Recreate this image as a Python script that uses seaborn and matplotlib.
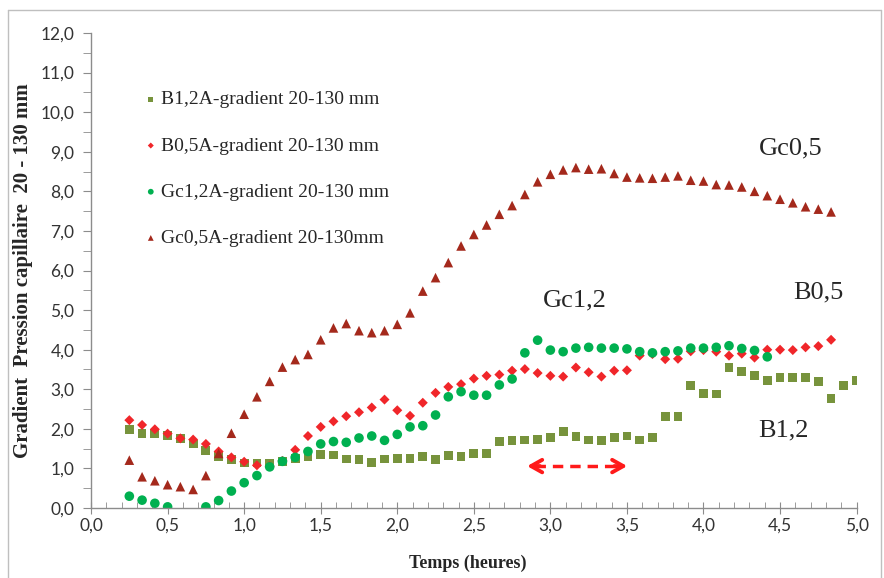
import numpy as np
import pandas as pd
import seaborn as sns
import matplotlib.pyplot as plt
from matplotlib.lines import Line2D
from matplotlib.ticker import MultipleLocator, FuncFormatter

# temps de mesure (minutes), un point toutes les 5 min
minutes = [15, 20, 25, 30, 35, 40, 45, 50, 55, 60,
           65, 70, 75, 80, 85, 90, 95, 100, 105, 110, 115, 120,
           125, 130, 135, 140, 145, 150, 155, 160, 165, 170, 175, 180,
           185, 190, 195, 200, 205, 210, 215, 220, 225, 230, 235, 240,
           245, 250, 255, 260, 265, 270, 275, 280, 285, 290, 295, 300]

# B1,2A (carres verts olive)
b12 = [1.99, 1.89, 1.89, 1.83, 1.75, 1.62, 1.46, 1.31, 1.23, 1.14,
       1.14, 1.13, 1.18, 1.25, 1.30, 1.35, 1.34, 1.24, 1.22, 1.15, 1.24, 1.25,
       1.25, 1.30, 1.22, 1.32, 1.30, 1.37, 1.38, 1.69, 1.71, 1.72, 1.73, 1.78,
       1.94, 1.80, 1.72, 1.70, 1.78, 1.82, 1.72, 1.78, 2.31, 2.32, 3.10, 2.90,
       2.88, 3.56, 3.45, 3.35, 3.23, 3.30, 3.30, 3.30, 3.19, 2.77, 3.10, 3.22]

# B0,5A (losanges rouges)
b05 = [2.22, 2.10, 1.99, 1.88, 1.76, 1.73, 1.62, 1.43, 1.28, 1.17,
       1.08, 1.06, 1.19, 1.47, 1.82, 2.05, 2.19, 2.32, 2.42, 2.54, 2.74, 2.47,
       2.33, 2.66, 2.91, 3.06, 3.13, 3.27, 3.34, 3.37, 3.47, 3.51, 3.41, 3.34,
       3.32, 3.55, 3.43, 3.32, 3.47, 3.48, 3.85, 3.89, 3.76, 3.77, 3.96, 3.99,
       3.95, 3.85, 3.90, 3.80, 4.00, 4.00, 3.99, 4.06, 4.09, 4.25]

# Gc1,2A (ronds verts) - pas de valeur a 35 et 40 min
gc12 = [0.30, 0.20, 0.12, 0.03, np.nan, np.nan, 0.03, 0.19, 0.43, 0.64,
        0.82, 1.04, 1.18, 1.28, 1.43, 1.62, 1.68, 1.66, 1.77, 1.82, 1.71, 1.86,
        2.05, 2.08, 2.35, 2.81, 2.94, 2.85, 2.85, 3.11, 3.26, 3.92, 4.24, 3.99,
        3.95, 4.04, 4.06, 4.04, 4.04, 4.02, 3.95, 3.92, 3.95, 3.97, 4.04, 4.04,
        4.06, 4.10, 4.03, 3.98, 3.82]

# Gc0,5A (triangles rouge fonce)
gc05 = [1.21, 0.79, 0.69, 0.59, 0.54, 0.47, 0.82, 1.38, 1.89, 2.37,
        2.81, 3.20, 3.56, 3.75, 3.88, 4.25, 4.55, 4.66, 4.48, 4.43, 4.48, 4.64,
        4.93, 5.48, 5.82, 6.20, 6.62, 6.91, 7.15, 7.42, 7.64, 7.92, 8.24, 8.43,
        8.54, 8.60, 8.56, 8.57, 8.45, 8.36, 8.34, 8.33, 8.36, 8.39, 8.28, 8.26,
        8.17, 8.16, 8.11, 8.00, 7.89, 7.80, 7.71, 7.61, 7.55, 7.48]

labels = ["B1,2A-gradient 20-130 mm", "B0,5A-gradient 20-130 mm",
          "Gc1,2A-gradient 20-130 mm", "Gc0,5A-gradient 20-130mm"]

temps = np.array(minutes) / 60.0

sns.set_style("ticks")
plt.rcParams['font.family'] = ['Liberation Serif', 'DejaVu Serif']

fig = plt.figure(figsize=(8.84, 5.78), dpi=100)
ax = fig.add_axes([0.103, 0.121, 0.866, 0.822])

styles = [("s", "#77933C", 40), ("D", "#F0262A", 26),
          ("o", "#00B050", 48), ("^", "#A4291C", 48)]
for lab, vals, (mk, col, sz) in zip(labels, [b12, b05, gc12, gc05], styles):
    df = pd.DataFrame({"t": temps[:len(vals)], "v": vals})
    sns.scatterplot(data=df, x="t", y="v", marker=mk, color=col, s=sz,
                    linewidth=0, edgecolor="none", ax=ax, label=lab)

ax.set_xlim(0, 5)
ax.set_ylim(0, 12)
sns.despine(ax=ax)
for sp in ["left", "bottom"]:
    ax.spines[sp].set_color("#8c8c8c")
    ax.spines[sp].set_linewidth(1.0)

fmt = FuncFormatter(lambda v, p: f"{v:.1f}".replace(".", ","))
ax.xaxis.set_major_locator(MultipleLocator(0.5))
ax.xaxis.set_minor_locator(MultipleLocator(0.1))
ax.yaxis.set_major_locator(MultipleLocator(1))
ax.yaxis.set_minor_locator(MultipleLocator(0.5))
ax.xaxis.set_major_formatter(fmt)
ax.yaxis.set_major_formatter(fmt)
ax.tick_params(axis="x", which="major", direction="inout", length=8, color="#8c8c8c", pad=3)
ax.tick_params(axis="x", which="minor", direction="in", length=4, color="#8c8c8c")
ax.tick_params(axis="y", which="major", direction="out", length=6, color="#8c8c8c", pad=6)
ax.tick_params(axis="y", which="minor", direction="out", length=6, color="#8c8c8c")
for t in ax.get_xticklabels() + ax.get_yticklabels():
    t.set_family(["Lato", "DejaVu Sans"])
    t.set_fontsize(12.5)
    t.set_color("#333333")

ax.set_xlabel("Temps (heures)", fontsize=13, fontweight="bold")
ax.set_ylabel("Gradient  Pression capillaire  20 - 130 mm", fontsize=15, fontweight="bold")
ax.xaxis.set_label_coords(0.492, -0.099)
ax.yaxis.set_label_coords(-0.076, 0.5)

ax.legend(loc="upper left", bbox_to_anchor=(0.045, 0.915), frameon=False,
          labelspacing=1.47, markerscale=0.6, handletextpad=0.1,
          handlelength=0.8, fontsize=14)

# etiquettes des courbes
ax.text(4.57, 9.09, "Gc0,5", fontsize=19, ha="center", va="center")
ax.text(4.75, 5.45, "B0,5", fontsize=19, ha="center", va="center")
ax.text(3.16, 5.25, "Gc1,2", fontsize=19, ha="center", va="center")
ax.text(4.52, 1.97, "B1,2", fontsize=19, ha="center", va="center")

# fleche pointillee rouge
ax.plot([2.90, 3.45], [1.06, 1.06], ls="--", color="#FF1A1A", lw=2.5, dashes=(3, 2))
head = "->,head_length=0.8,head_width=0.45"
ax.annotate("", xy=(2.83, 1.06), xytext=(2.95, 1.06),
            arrowprops=dict(arrowstyle=head, color="#FF1A1A", lw=2.8))
ax.annotate("", xy=(3.52, 1.06), xytext=(3.40, 1.06),
            arrowprops=dict(arrowstyle=head, color="#FF1A1A", lw=2.8))

# cadre du graphique
for xs, ys in [([8/884, 8/884], [0, 1 - 10/578]),
               ([8/884, 881/884], [1 - 10/578, 1 - 10/578]),
               ([881/884, 881/884], [0, 1 - 10/578])]:
    fig.add_artist(Line2D(xs, ys, transform=fig.transFigure, color="#bfbfbf", lw=1))

fig.savefig("out.png", dpi=100)
